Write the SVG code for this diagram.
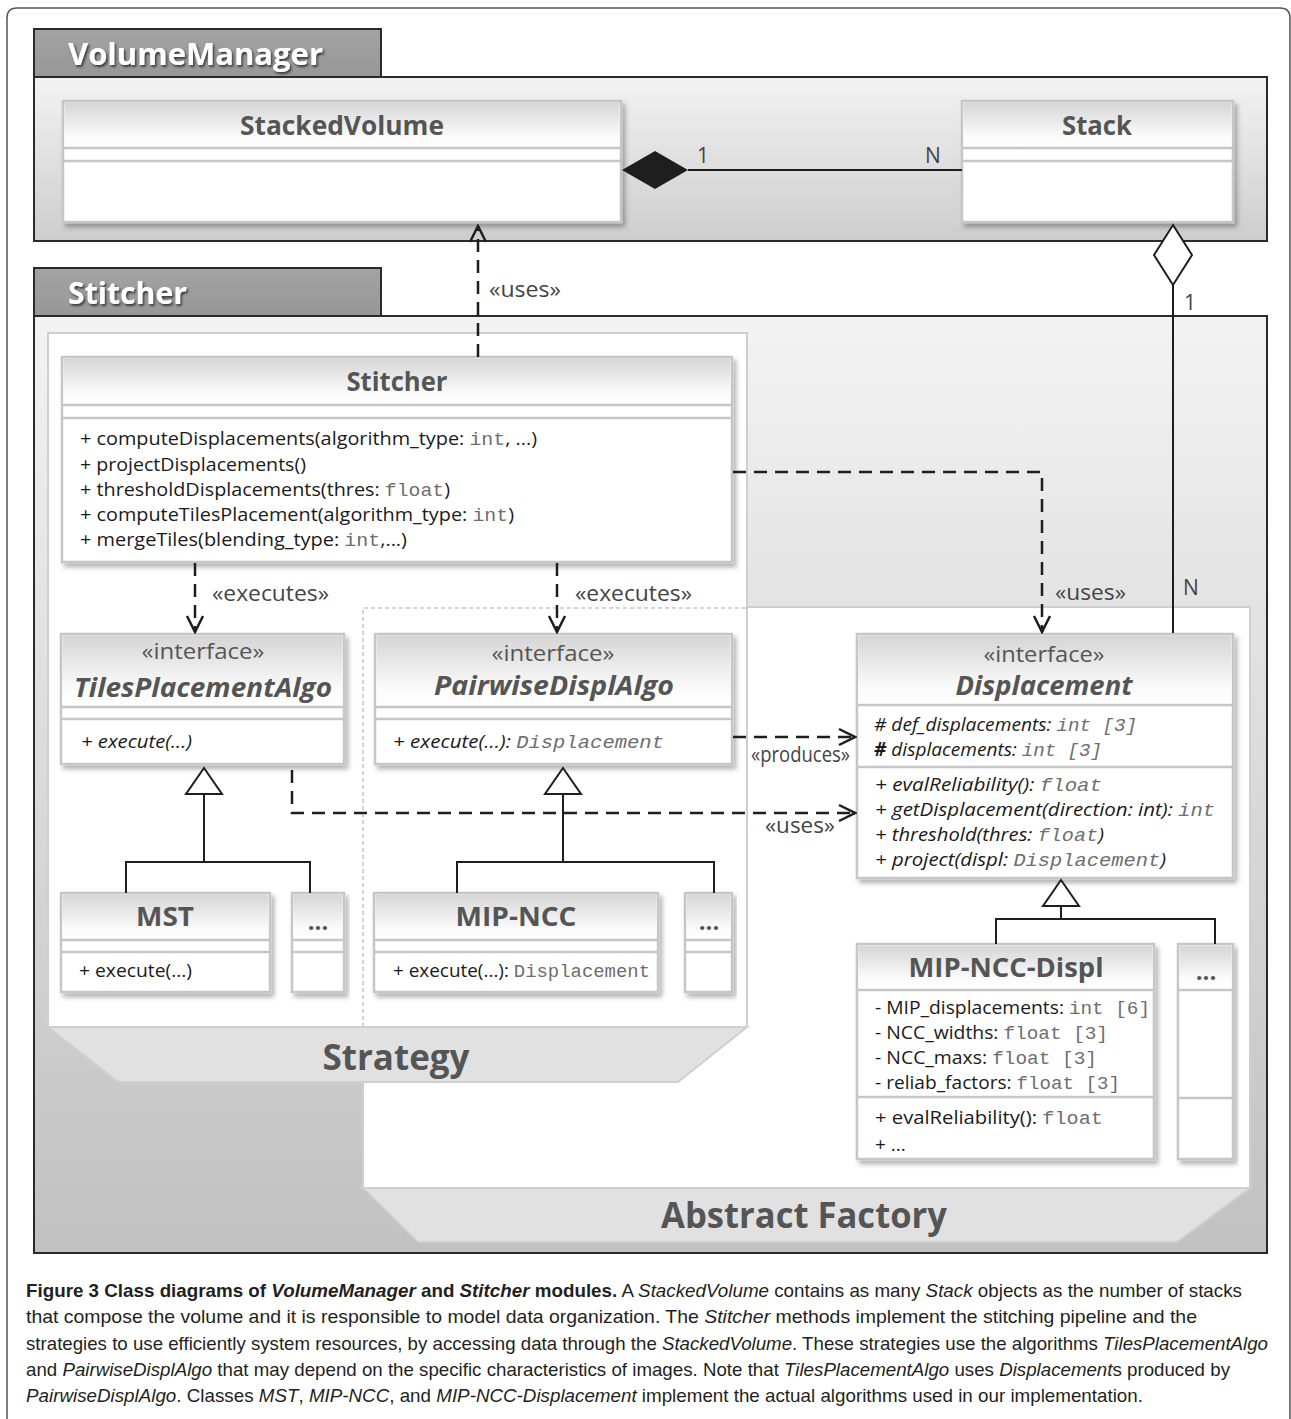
<svg xmlns="http://www.w3.org/2000/svg" width="1291" height="1419" viewBox="0 0 1291 1419">
<defs>
  <linearGradient id="hdr" x1="0" y1="0" x2="0" y2="1">
    <stop offset="0" stop-color="#d5d5d5"/><stop offset="0.75" stop-color="#fbfbfb"/><stop offset="1" stop-color="#ffffff"/>
  </linearGradient>
  <linearGradient id="vmBody" x1="0" y1="0" x2="0" y2="1">
    <stop offset="0" stop-color="#f3f3f3"/><stop offset="1" stop-color="#cdcdcd"/>
  </linearGradient>
  <linearGradient id="stBody" x1="0" y1="0" x2="0" y2="1">
    <stop offset="0" stop-color="#f3f3f3"/><stop offset="1" stop-color="#c1c1c1"/>
  </linearGradient>
  <linearGradient id="tabG" x1="0" y1="0" x2="0" y2="1">
    <stop offset="0" stop-color="#a3a3a3"/><stop offset="1" stop-color="#979797"/>
  </linearGradient>
  <filter id="sh" x="-5%" y="-5%" width="115%" height="125%">
    <feDropShadow dx="3" dy="4" stdDeviation="2.5" flood-color="#000" flood-opacity="0.3"/>
  </filter>
  <filter id="tsh" x="-5%" y="-20%" width="115%" height="150%">
    <feDropShadow dx="1.5" dy="2" stdDeviation="1" flood-color="#222" flood-opacity="0.8"/>
  </filter>
  <marker id="open" markerUnits="userSpaceOnUse" markerWidth="20" markerHeight="20" viewBox="0 0 20 20" refX="18" refY="10" orient="auto">
    <path d="M2,2 L18,10 L2,18" fill="none" stroke="#1e1e1e" stroke-width="2.5"/>
  </marker>
</defs>
<style>
  .frame{fill:none;stroke:#555;stroke-width:1.5}
  .tab{fill:url(#tabG);stroke:#2a2a2a;stroke-width:2}
  .tabt{font-family:"Open Sans",sans-serif;font-weight:700;font-size:30px;fill:#fff}
  .pkg{stroke:#2a2a2a;stroke-width:2}
  .box{fill:#fff;stroke:#c6c6c6;stroke-width:2.5}
  .hdr{fill:url(#hdr)}
  .sep{stroke:#c6c6c6;stroke-width:2.5}
  .title{font-family:"Open Sans",sans-serif;font-weight:700;font-size:27px;fill:#555;text-anchor:middle}
  .it{font-style:italic}
  .stereo{font-family:"Open Sans",sans-serif;font-size:22px;fill:#555;text-anchor:middle}
  .m{font-family:"Open Sans",sans-serif;font-size:19px;fill:#1a1a1a}
  .mono{font-family:"Liberation Mono",monospace;fill:#6e6e6e}
  .lbl{font-family:"Open Sans",sans-serif;font-size:21px;fill:#444}
  .dash{fill:none;stroke:#1e1e1e;stroke-width:2.5;stroke-dasharray:13 8}
  .solid{fill:none;stroke:#1e1e1e;stroke-width:2}
  .gen{fill:#fff;stroke:#1e1e1e;stroke-width:2}
  .region{fill:#fff;stroke:#cfcfcf;stroke-width:2}
  .trap{fill:#e1e1e1;stroke:#cfcfcf;stroke-width:2}
  .big{font-family:"Open Sans",sans-serif;font-weight:700;font-size:36px;fill:#555;text-anchor:middle}
  .dots{font-family:"Open Sans",sans-serif;font-weight:700;font-size:24px;fill:#555;text-anchor:middle}
  .cap{font-family:"Liberation Sans",sans-serif;font-size:19px;fill:#231f20}
</style>

<path class="frame" d="M7,1419 V18 Q7,8 17,8 H1280 Q1290,8 1290,18 V1419"/>

<!-- VolumeManager package -->
<g id="VolumeManagerPkg">
  <rect class="pkg" x="34" y="77" width="1233" height="164" fill="url(#vmBody)"/>
  <rect class="tab" x="34" y="29" width="347" height="48"/>
  <text class="tabt" x="68" y="65" textLength="255" lengthAdjust="spacingAndGlyphs" filter="url(#tsh)">VolumeManager</text>
</g>

<!-- Stitcher package -->
<g id="StitcherPkg">
  <rect class="pkg" x="34" y="316" width="1233" height="937" fill="url(#stBody)"/>
  <rect class="tab" x="34" y="268" width="347" height="48"/>
  <text class="tabt" x="68" y="304" textLength="119" lengthAdjust="spacingAndGlyphs" filter="url(#tsh)">Stitcher</text>
</g>

<!-- Abstract Factory region -->
<g id="AbstractFactory">
  <rect class="region" x="363" y="607" width="887" height="581"/>
  <polygon class="trap" points="363,1188 1250,1188 1177,1242 418,1242"/>
  <text class="big" x="804" y="1228" textLength="286" lengthAdjust="spacingAndGlyphs">Abstract Factory</text>
</g>

<!-- Strategy region -->
<g id="Strategy">
  <rect class="region" x="48" y="333" width="699" height="694"/>
  <polygon class="trap" points="48,1027 747,1027 678,1082 118,1082"/>
  <text class="big" x="396" y="1070" textLength="147" lengthAdjust="spacingAndGlyphs">Strategy</text>
  <path d="M363,1027 V608 H747" fill="none" stroke="#c8c8c8" stroke-width="1.5" stroke-dasharray="4 3"/>
</g>

<!-- StackedVolume -->
<g id="StackedVolume">
  <rect class="box" x="63" y="101" width="558" height="121" filter="url(#sh)"/>
  <rect class="hdr" x="64.5" y="102.5" width="555" height="45"/>
  <line class="sep" x1="63" y1="148" x2="621" y2="148"/>
  <line class="sep" x1="63" y1="161" x2="621" y2="161"/>
  <text class="title" x="342" y="135" textLength="204" lengthAdjust="spacingAndGlyphs">StackedVolume</text>
</g>

<!-- Stack -->
<g id="Stack">
  <rect class="box" x="962" y="101" width="271" height="121" filter="url(#sh)"/>
  <rect class="hdr" x="963.5" y="102.5" width="268" height="45"/>
  <line class="sep" x1="962" y1="148" x2="1233" y2="148"/>
  <line class="sep" x1="962" y1="161" x2="1233" y2="161"/>
  <text class="title" x="1097" y="135" textLength="70" lengthAdjust="spacingAndGlyphs">Stack</text>
</g>

<!-- Stitcher class -->
<g id="StitcherClass">
  <rect class="box" x="62" y="357" width="670" height="205" filter="url(#sh)"/>
  <rect class="hdr" x="63.5" y="358.5" width="667" height="46"/>
  <line class="sep" x1="62" y1="405" x2="732" y2="405"/>
  <line class="sep" x1="62" y1="418" x2="732" y2="418"/>
  <text class="title" x="397" y="391" textLength="101" lengthAdjust="spacingAndGlyphs">Stitcher</text>
  <text class="m" x="80" y="445" textLength="457" lengthAdjust="spacingAndGlyphs">+ computeDisplacements(algorithm_type: <tspan class="mono">int</tspan>, ...)</text>
  <text class="m" x="80" y="471" textLength="226" lengthAdjust="spacingAndGlyphs">+ projectDisplacements()</text>
  <text class="m" x="80" y="496" textLength="370" lengthAdjust="spacingAndGlyphs">+ thresholdDisplacements(thres: <tspan class="mono">float</tspan>)</text>
  <text class="m" x="80" y="521" textLength="434" lengthAdjust="spacingAndGlyphs">+ computeTilesPlacement(algorithm_type: <tspan class="mono">int</tspan>)</text>
  <text class="m" x="80" y="546" textLength="327" lengthAdjust="spacingAndGlyphs">+ mergeTiles(blending_type: <tspan class="mono">int</tspan>,...)</text>
</g>

<!-- TilesPlacementAlgo -->
<g id="TilesPlacementAlgo">
  <rect class="box" x="61" y="634" width="283" height="130" filter="url(#sh)"/>
  <rect class="hdr" x="62.5" y="635.5" width="280" height="71"/>
  <line class="sep" x1="61" y1="707" x2="344" y2="707"/>
  <line class="sep" x1="61" y1="719" x2="344" y2="719"/>
  <text class="stereo" x="203" y="659" textLength="123" lengthAdjust="spacingAndGlyphs">«interface»</text>
  <text class="title it" x="203" y="697" textLength="258" lengthAdjust="spacingAndGlyphs">TilesPlacementAlgo</text>
  <text class="m it" x="81" y="748" textLength="111" lengthAdjust="spacingAndGlyphs">+ execute(...)</text>
</g>

<!-- PairwiseDisplAlgo -->
<g id="PairwiseDisplAlgo">
  <rect class="box" x="375" y="634" width="357" height="130" filter="url(#sh)"/>
  <rect class="hdr" x="376.5" y="635.5" width="354" height="71"/>
  <line class="sep" x1="375" y1="707" x2="732" y2="707"/>
  <line class="sep" x1="375" y1="719" x2="732" y2="719"/>
  <text class="stereo" x="553" y="661" textLength="123" lengthAdjust="spacingAndGlyphs">«interface»</text>
  <text class="title it" x="554" y="695" textLength="240" lengthAdjust="spacingAndGlyphs">PairwiseDisplAlgo</text>
  <text class="m" x="393" y="748" textLength="271" lengthAdjust="spacingAndGlyphs"><tspan class="it">+ execute(...): </tspan><tspan class="mono it">Displacement</tspan></text>
</g>

<!-- MST -->
<g id="MST">
  <rect class="box" x="61" y="893" width="209" height="99" filter="url(#sh)"/>
  <rect class="hdr" x="62.5" y="894.5" width="206" height="45"/>
  <line class="sep" x1="61" y1="940" x2="270" y2="940"/>
  <line class="sep" x1="61" y1="952" x2="270" y2="952"/>
  <text class="title" x="165" y="926" textLength="58" lengthAdjust="spacingAndGlyphs">MST</text>
  <text class="m" x="79" y="977" textLength="113" lengthAdjust="spacingAndGlyphs">+ execute(...)</text>
</g>

<g id="OtherTilesAlgo">
  <rect class="box" x="292" y="893" width="52" height="99" filter="url(#sh)"/>
  <rect class="hdr" x="293.5" y="894.5" width="49" height="45"/>
  <line class="sep" x1="292" y1="940" x2="344" y2="940"/>
  <line class="sep" x1="292" y1="952" x2="344" y2="952"/>
  <text class="dots" x="318" y="930">...</text>
</g>

<!-- MIP-NCC -->
<g id="MIP-NCC">
  <rect class="box" x="374" y="893" width="284" height="99" filter="url(#sh)"/>
  <rect class="hdr" x="375.5" y="894.5" width="281" height="45"/>
  <line class="sep" x1="374" y1="940" x2="658" y2="940"/>
  <line class="sep" x1="374" y1="952" x2="658" y2="952"/>
  <text class="title" x="516" y="926" textLength="121" lengthAdjust="spacingAndGlyphs">MIP-NCC</text>
  <text class="m" x="393" y="977" textLength="257" lengthAdjust="spacingAndGlyphs">+ execute(...): <tspan class="mono">Displacement</tspan></text>
</g>

<g id="OtherPairwiseAlgo">
  <rect class="box" x="685" y="893" width="47" height="99" filter="url(#sh)"/>
  <rect class="hdr" x="686.5" y="894.5" width="44" height="45"/>
  <line class="sep" x1="685" y1="940" x2="732" y2="940"/>
  <line class="sep" x1="685" y1="952" x2="732" y2="952"/>
  <text class="dots" x="709" y="930">...</text>
</g>

<!-- Displacement -->
<g id="Displacement">
  <rect class="box" x="857" y="634" width="376" height="244" filter="url(#sh)"/>
  <rect class="hdr" x="858.5" y="635.5" width="373" height="69"/>
  <line class="sep" x1="857" y1="705" x2="1233" y2="705"/>
  <line class="sep" x1="857" y1="767" x2="1233" y2="767"/>
  <text class="stereo" x="1044" y="662" textLength="121" lengthAdjust="spacingAndGlyphs">«interface»</text>
  <text class="title it" x="1044" y="695" textLength="177" lengthAdjust="spacingAndGlyphs">Displacement</text>
  <text class="m it" x="874" y="731" textLength="263" lengthAdjust="spacingAndGlyphs"># def_displacements: <tspan class="mono">int [3]</tspan></text>
  <text class="m it" x="874" y="756" textLength="228" lengthAdjust="spacingAndGlyphs"><tspan font-weight="700">#</tspan> displacements: <tspan class="mono">int [3]</tspan></text>
  <text class="m it" x="875" y="791" textLength="227" lengthAdjust="spacingAndGlyphs">+ evalReliability(): <tspan class="mono">float</tspan></text>
  <text class="m it" x="875" y="816" textLength="340" lengthAdjust="spacingAndGlyphs">+ getDisplacement(direction: int): <tspan class="mono">int</tspan></text>
  <text class="m it" x="875" y="841" textLength="229" lengthAdjust="spacingAndGlyphs">+ threshold(thres: <tspan class="mono">float</tspan>)</text>
  <text class="m it" x="875" y="866" textLength="291" lengthAdjust="spacingAndGlyphs">+ project(displ: <tspan class="mono">Displacement</tspan>)</text>
</g>

<!-- MIP-NCC-Displ -->
<g id="MIP-NCC-Displ">
  <rect class="box" x="857" y="944" width="297" height="215" filter="url(#sh)"/>
  <rect class="hdr" x="858.5" y="945.5" width="294" height="44"/>
  <line class="sep" x1="857" y1="990" x2="1154" y2="990"/>
  <line class="sep" x1="857" y1="1097" x2="1154" y2="1097"/>
  <text class="title" x="1006" y="977" textLength="195" lengthAdjust="spacingAndGlyphs">MIP-NCC-Displ</text>
  <text class="m" x="875" y="1014" textLength="275" lengthAdjust="spacingAndGlyphs">- MIP_displacements: <tspan class="mono">int [6]</tspan></text>
  <text class="m" x="875" y="1039" textLength="233" lengthAdjust="spacingAndGlyphs">- NCC_widths: <tspan class="mono">float [3]</tspan></text>
  <text class="m" x="875" y="1064" textLength="222" lengthAdjust="spacingAndGlyphs">- NCC_maxs: <tspan class="mono">float [3]</tspan></text>
  <text class="m" x="875" y="1089" textLength="245" lengthAdjust="spacingAndGlyphs">- reliab_factors: <tspan class="mono">float [3]</tspan></text>
  <text class="m" x="875" y="1124" textLength="228" lengthAdjust="spacingAndGlyphs">+ evalReliability(): <tspan class="mono">float</tspan></text>
  <text class="m" x="875" y="1151">+ ...</text>
</g>

<g id="OtherDisplacement">
  <rect class="box" x="1178" y="944" width="55" height="215" filter="url(#sh)"/>
  <rect class="hdr" x="1179.5" y="945.5" width="52" height="44"/>
  <line class="sep" x1="1178" y1="990" x2="1233" y2="990"/>
  <line class="sep" x1="1178" y1="1098" x2="1233" y2="1098"/>
  <text class="dots" x="1206" y="980">...</text>
</g>

<!-- Connectors -->
<g id="connectors">
  <line class="solid" x1="688" y1="170" x2="962" y2="170"/>
  <polygon points="622,170 655,151 688,170 655,189" fill="#1e1e1e"/>
  <line class="solid" x1="1173" y1="285" x2="1173" y2="633"/>
  <polygon points="1173,225 1192,255 1173,285 1154,255" fill="#fff" stroke="#1e1e1e" stroke-width="2"/>

  <path class="dash" d="M478,357 V226" marker-end="url(#open)"/>
  <path class="dash" d="M733,472 H1042 V632" marker-end="url(#open)"/>
  <path class="dash" d="M195,563 V632" marker-end="url(#open)"/>
  <path class="dash" d="M557,563 V632" marker-end="url(#open)"/>
  <path class="dash" d="M733,737 H855" marker-end="url(#open)"/>
  <path class="dash" d="M292,770 V813 H855" marker-end="url(#open)"/>

  <polygon class="gen" points="204,768 222,794 186,794"/>
  <path class="solid" d="M204,794 V862 M126,893 V862 H310 V893"/>
  <polygon class="gen" points="563,768 581,794 545,794"/>
  <path class="solid" d="M563,794 V862 M457,893 V862 H714 V893"/>
  <polygon class="gen" points="1061,880 1079,906 1043,906"/>
  <path class="solid" d="M1061,906 V919 M996,944 V919 H1215 V944"/>

  <text class="lbl" x="697" y="163">1</text>
  <text class="lbl" x="925" y="163">N</text>
  <text class="lbl" x="1184" y="310">1</text>
  <text class="lbl" x="1183" y="595">N</text>
  <text class="lbl" x="489" y="297" textLength="72" lengthAdjust="spacingAndGlyphs">«uses»</text>
  <text class="lbl" x="212" y="601" textLength="117" lengthAdjust="spacingAndGlyphs">«executes»</text>
  <text class="lbl" x="575" y="601" textLength="117" lengthAdjust="spacingAndGlyphs">«executes»</text>
  <text class="lbl" x="1055" y="600" textLength="71" lengthAdjust="spacingAndGlyphs">«uses»</text>
  <text class="lbl" x="751" y="762" textLength="99" lengthAdjust="spacingAndGlyphs">«produces»</text>
  <text class="lbl" x="765" y="833" textLength="70" lengthAdjust="spacingAndGlyphs">«uses»</text>
</g>

<!-- Caption -->
<g id="caption">
  <text class="cap" x="26" y="1297" textLength="1216" lengthAdjust="spacingAndGlyphs"><tspan font-weight="700">Figure 3 Class diagrams of </tspan><tspan font-weight="700" font-style="italic">VolumeManager</tspan><tspan font-weight="700"> and </tspan><tspan font-weight="700" font-style="italic">Stitcher</tspan><tspan font-weight="700"> modules.</tspan> A <tspan font-style="italic">StackedVolume</tspan> contains as many <tspan font-style="italic">Stack</tspan> objects as the number of stacks</text>
  <text class="cap" x="26" y="1323" textLength="1171" lengthAdjust="spacingAndGlyphs">that compose the volume and it is responsible to model data organization. The <tspan font-style="italic">Stitcher</tspan> methods implement the stitching pipeline and the</text>
  <text class="cap" x="26" y="1350" textLength="1242" lengthAdjust="spacingAndGlyphs">strategies to use efficiently system resources, by accessing data through the <tspan font-style="italic">StackedVolume</tspan>. These strategies use the algorithms <tspan font-style="italic">TilesPlacementAlgo</tspan></text>
  <text class="cap" x="26" y="1376" textLength="1204" lengthAdjust="spacingAndGlyphs">and <tspan font-style="italic">PairwiseDisplAlgo</tspan> that may depend on the specific characteristics of images. Note that <tspan font-style="italic">TilesPlacementAlgo</tspan> uses <tspan font-style="italic">Displacement</tspan>s produced by</text>
  <text class="cap" x="26" y="1402" textLength="1117" lengthAdjust="spacingAndGlyphs"><tspan font-style="italic">PairwiseDisplAlgo</tspan>. Classes <tspan font-style="italic">MST</tspan>, <tspan font-style="italic">MIP-NCC</tspan>, and <tspan font-style="italic">MIP-NCC-Displacement</tspan> implement the actual algorithms used in our implementation.</text>
</g>
</svg>
